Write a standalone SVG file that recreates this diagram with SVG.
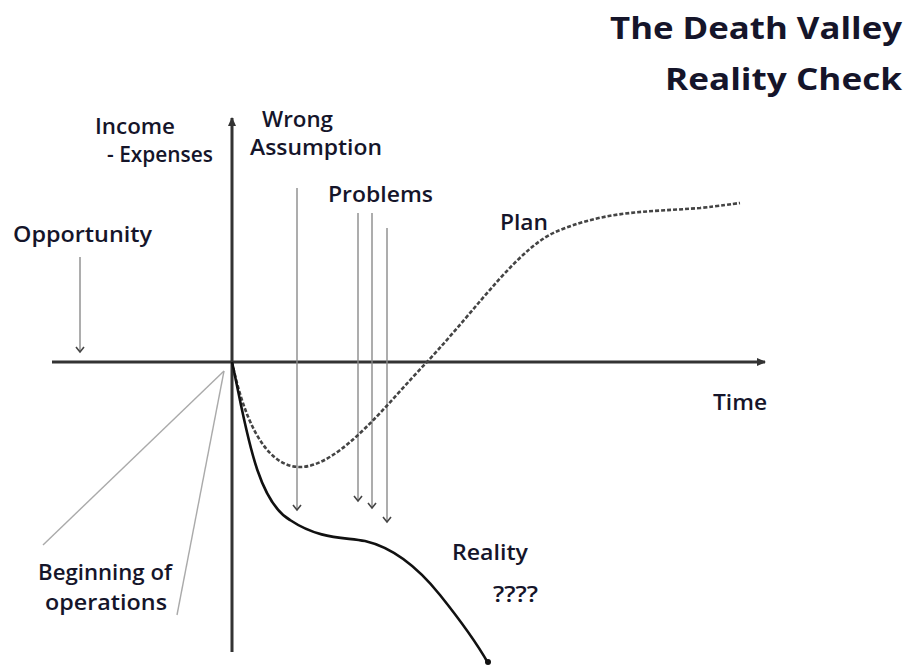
<svg xmlns="http://www.w3.org/2000/svg" width="912" height="666" viewBox="0 0 912 666">
<style>
.lbl{font-family:"Open Sans","Liberation Sans",sans-serif;font-size:22px;font-weight:600;fill:#15152a}
.ttl{font-family:"Open Sans","Liberation Sans",sans-serif;font-size:31px;font-weight:700;fill:#15152a}
.axis{stroke:#333;stroke-width:3;fill:none}
.thin{stroke:#8a8a8a;stroke-width:1.4;fill:none}
.ptr{stroke:#aaa;stroke-width:1.4;fill:none}
.plan{stroke:#444;stroke-width:2.6;fill:none;stroke-dasharray:4 2}
.real{stroke:#111;stroke-width:2.6;fill:none}
</style>
<defs>
<marker id="ah" markerWidth="10" markerHeight="10" refX="8" refY="5" orient="auto" markerUnits="userSpaceOnUse">
<path d="M0,1 L9,5 L0,9 Z" fill="#333"/>
</marker>
<marker id="chev" markerWidth="12" markerHeight="12" refX="6" refY="6" orient="auto" markerUnits="userSpaceOnUse">
<path d="M1,2 L6,6 L1,10" fill="none" stroke="#444" stroke-width="1.6"/>
</marker>
</defs>
<rect width="912" height="666" fill="#fff"/>
<g id="connectors">
<line id="x-axis" class="axis" x1="52" y1="362" x2="765" y2="362" marker-end="url(#ah)"/>
<line id="y-axis" class="axis" x1="232" y1="652" x2="232" y2="118" marker-end="url(#ah)"/>
<line class="thin" x1="80" y1="257" x2="80" y2="352" marker-end="url(#chev)"/>
<line class="thin" x1="297" y1="188" x2="297" y2="510" marker-end="url(#chev)"/>
<line class="thin" x1="358" y1="213" x2="358" y2="501" marker-end="url(#chev)"/>
<line class="thin" x1="372" y1="213" x2="372" y2="508" marker-end="url(#chev)"/>
<line class="thin" x1="387" y1="228" x2="387" y2="522" marker-end="url(#chev)"/>
<line class="ptr" x1="224" y1="371" x2="43" y2="545"/>
<line class="ptr" x1="224" y1="371" x2="177" y2="615"/>
<path id="plan-curve" class="plan" d="M232,362 C242,410 262,467 300,467 C340,467 390,400 427,362 C480,305 520,245 560,230 C610,210 650,212 700,208 C720,206 732,204 740,203"/>
<path id="reality-curve" class="real" d="M232,362 C245,420 255,500 290,520 C320,540 345,537 365,541 C395,548 420,570 440,595 C460,620 475,640 488,663"/>
<circle cx="488" cy="662" r="3" fill="#111"/>
</g>
<g id="title">
<text class="ttl" x="610" y="39" textLength="292" lengthAdjust="spacingAndGlyphs">The Death Valley</text>
<text class="ttl" x="665" y="90" textLength="237" lengthAdjust="spacingAndGlyphs">Reality Check</text>
</g>
<g id="y-label"><text class="lbl" x="95" y="134" textLength="80" lengthAdjust="spacingAndGlyphs">Income</text><text class="lbl" x="107" y="162" textLength="106" lengthAdjust="spacingAndGlyphs">- Expenses</text></g>
<g id="wrong-assumption"><text class="lbl" x="262" y="127" textLength="71" lengthAdjust="spacingAndGlyphs">Wrong</text><text class="lbl" x="250" y="155" textLength="132" lengthAdjust="spacingAndGlyphs">Assumption</text></g>
<g id="problems"><text class="lbl" x="328" y="202" textLength="105" lengthAdjust="spacingAndGlyphs">Problems</text></g>
<g id="opportunity"><text class="lbl" x="13" y="242" textLength="139" lengthAdjust="spacingAndGlyphs">Opportunity</text></g>
<g id="plan"><text class="lbl" x="500" y="230" textLength="48" lengthAdjust="spacingAndGlyphs">Plan</text></g>
<g id="time"><text class="lbl" x="713" y="410" textLength="54" lengthAdjust="spacingAndGlyphs">Time</text></g>
<g id="reality"><text class="lbl" x="452" y="560" textLength="76" lengthAdjust="spacingAndGlyphs">Reality</text><text class="lbl" x="493" y="602" textLength="45" lengthAdjust="spacingAndGlyphs">????</text></g>
<g id="beginning"><text class="lbl" x="38" y="580" textLength="134" lengthAdjust="spacingAndGlyphs">Beginning of</text><text class="lbl" x="45" y="610" textLength="122" lengthAdjust="spacingAndGlyphs">operations</text></g>
</svg>
